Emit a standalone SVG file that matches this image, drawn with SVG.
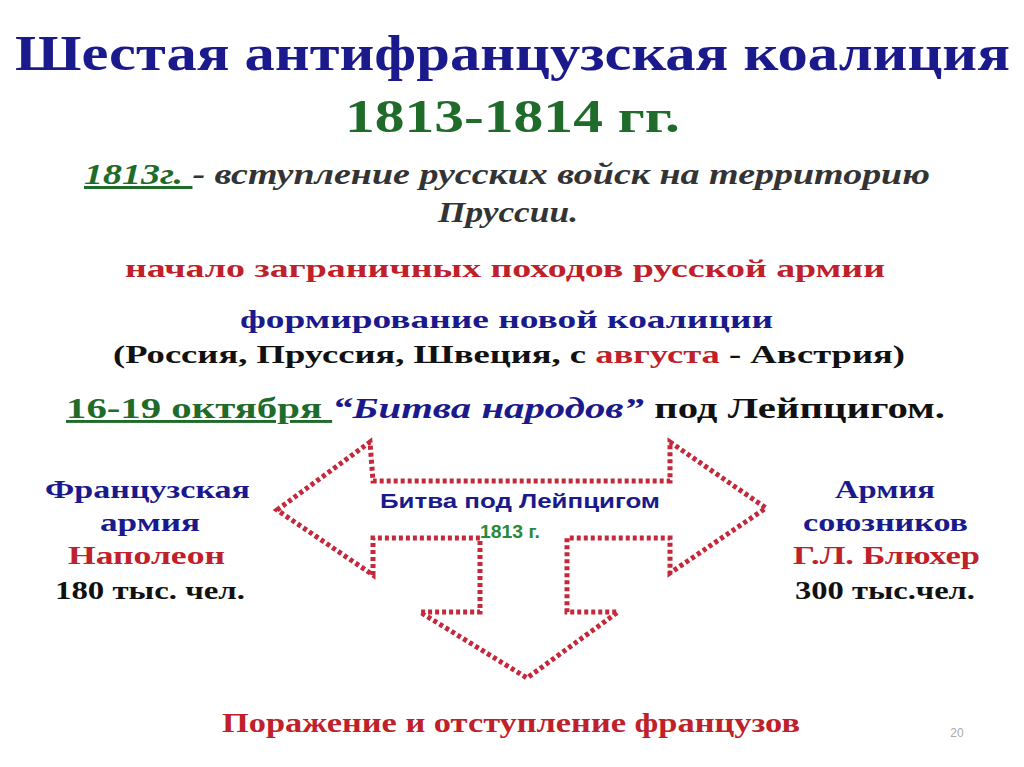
<svg xmlns="http://www.w3.org/2000/svg" width="1024" height="767" viewBox="0 0 1024 767">
<style>
.s{font-family:"Liberation Serif",serif;font-weight:bold}
.i{font-style:italic}
.blue{fill:#1a1a8c}.green{fill:#1e6b2a}.red{fill:#c0202a}.blk{fill:#111}
</style>
<rect width="1024" height="767" fill="#fff"/>
<g id="title">
<text x="15" y="70" textLength="995" lengthAdjust="spacingAndGlyphs" class="s blue" font-size="50">Шестая антифранцузская коалиция</text>
<text x="345" y="132" textLength="335" lengthAdjust="spacingAndGlyphs" class="s green" font-size="46">1813-1814 гг.</text>
</g>
<g id="text1">
<text x="84" y="184" textLength="846" lengthAdjust="spacingAndGlyphs" class="s i" font-size="30" fill="#333"><tspan class="green" text-decoration="underline">1813г. </tspan>- вступление русских войск на территорию</text>
<text x="438" y="222" textLength="140" lengthAdjust="spacingAndGlyphs" class="s i" font-size="30" fill="#333">Пруссии.</text>
<text x="125" y="277" textLength="760" lengthAdjust="spacingAndGlyphs" class="s red" font-size="26">начало заграничных походов русской армии</text>
<text x="240" y="328" textLength="533" lengthAdjust="spacingAndGlyphs" class="s blue" font-size="26">формирование новой коалиции</text>
<text x="113" y="363" textLength="792" lengthAdjust="spacingAndGlyphs" class="s blk" font-size="26">(Россия, Пруссия, Швеция, с <tspan class="red">августа</tspan> - Австрия)</text>
<text x="66" y="418" textLength="879" lengthAdjust="spacingAndGlyphs" class="s blk" font-size="29"><tspan class="green" text-decoration="underline">16-19 октября </tspan> <tspan class="blue i">“Битва народов”</tspan> под Лейпцигом.</text>
</g>
<g id="french" class="s" font-size="26">
<text x="45" y="498" textLength="205" lengthAdjust="spacingAndGlyphs" class="blue">Французская</text>
<text x="100" y="531" textLength="100" lengthAdjust="spacingAndGlyphs" class="blue">армия</text>
<text x="68" y="564" textLength="157" lengthAdjust="spacingAndGlyphs" class="red">Наполеон</text>
<text x="55" y="599" textLength="190" lengthAdjust="spacingAndGlyphs" class="blk">180 тыс. чел.</text>
</g>
<g id="allies" class="s" font-size="26">
<text x="835" y="498" textLength="100" lengthAdjust="spacingAndGlyphs" class="blue">Армия</text>
<text x="803" y="531" textLength="165" lengthAdjust="spacingAndGlyphs" class="blue">союзников</text>
<text x="793" y="564" textLength="187" lengthAdjust="spacingAndGlyphs" class="red">Г.Л. Блюхер</text>
<text x="795" y="599" textLength="180" lengthAdjust="spacingAndGlyphs" class="blk">300 тыс.чел.</text>
</g>
<g id="connectors">
<path d="M277,510 L370,442 L373,481 L670,481 L670,442 L766,508 L670,573 L670,538 L567,538 L567,612 L618,612 L527,678 L420,612 L480,612 L480,538 L373,538 L373,575 Z" fill="none" stroke="#c4283a" stroke-width="5" stroke-dasharray="4,3"/>
</g>
<g id="battle">
<text x="380" y="508" textLength="280" lengthAdjust="spacingAndGlyphs" font-family="Liberation Sans,sans-serif" font-weight="bold" font-size="21" fill="#1a1a8c">Битва под Лейпцигом</text>
<text x="480" y="538" textLength="60" lengthAdjust="spacingAndGlyphs" font-family="Liberation Sans,sans-serif" font-weight="bold" font-size="18" fill="#2a8a3a">1813 г.</text>
</g>
<g id="result">
<text x="222" y="732" textLength="578" lengthAdjust="spacingAndGlyphs" class="s red" font-size="28">Поражение и отступление французов</text>
<text x="957" y="737" text-anchor="middle" font-family="Liberation Sans,sans-serif" font-size="12" fill="#aaa">20</text>
</g>
</svg>
